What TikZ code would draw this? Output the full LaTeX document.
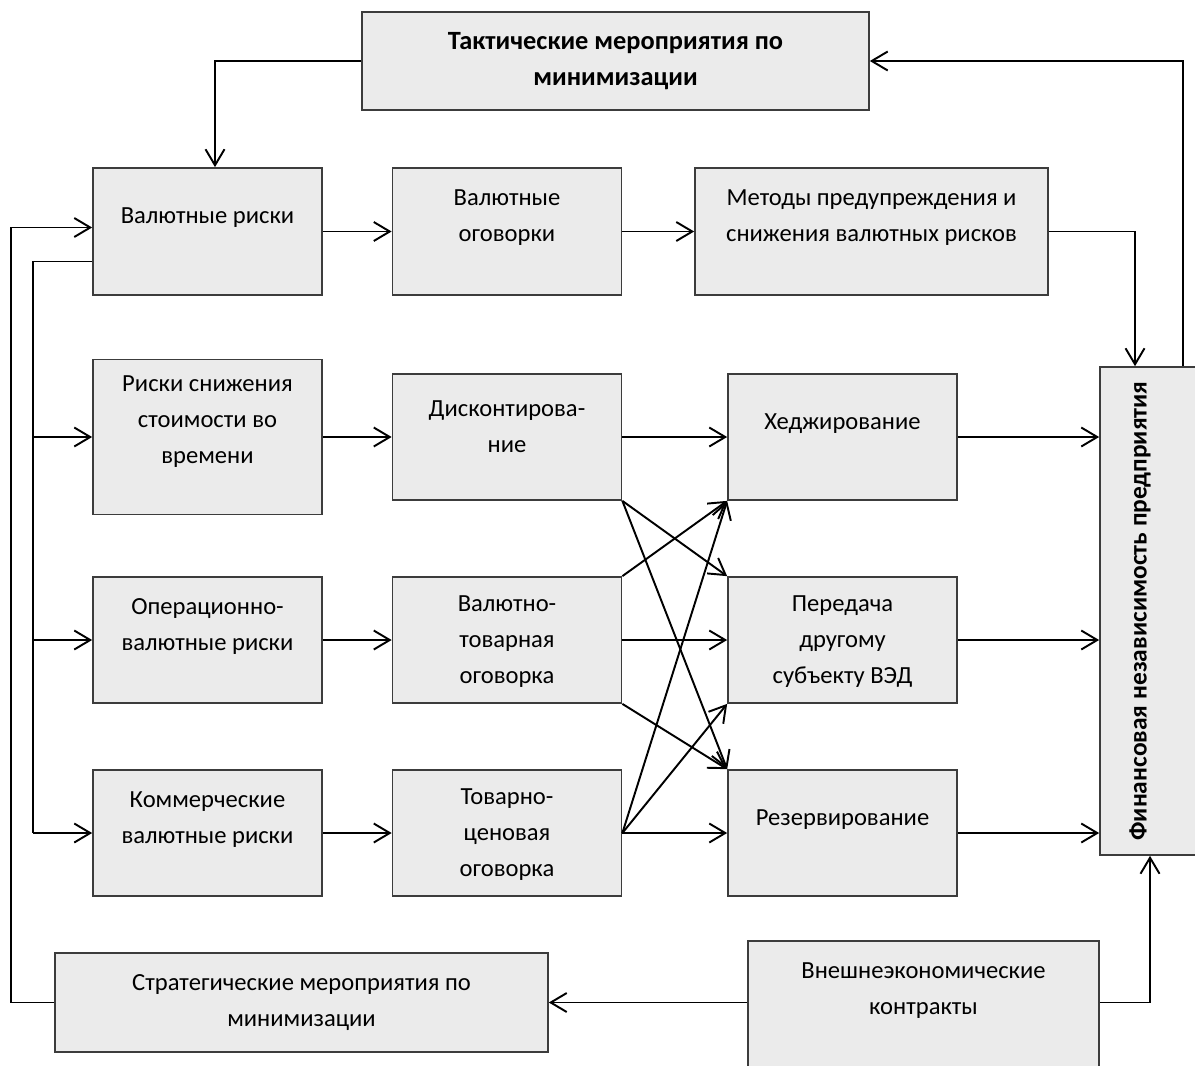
\documentclass[tikz,border=0pt]{standalone}
\usepackage{fontspec}
\setmainfont{Carlito}
\usepackage{graphicx}
\usepackage{xcolor}
\usepackage{tikz}
\usetikzlibrary{arrows.meta}
\definecolor{BoxGray}{RGB}{235,235,235}
\definecolor{EdgeGray}{RGB}{60,60,60}
\tikzset{
    box/.style={rectangle, draw=EdgeGray, fill=BoxGray, line width=1pt, inner sep=2pt, align=center, font=\fontsize{14}{20.5}\selectfont},
    cell/.style={box, minimum width=4.58cm, minimum height=2.52cm},
    raised/.style={text depth=18pt},
    flow/.style={-{Straight Barb[length=3.2mm,width=3.8mm]}, line width=1.1pt},
    link/.style={line width=1.1pt}
}

\begin{document}
\begin{tikzpicture}[x=0.02cm, y=-0.02cm]
    \useasboundingbox (0,0) rectangle (1195,1065);

    % --- Верхний блок ---
    \node[box, font=\fontsize{15}{20.5}\selectfont\bfseries, minimum width=10.14cm, minimum height=1.96cm] (tact) at (615.5,61) {Тактические мероприятия по\\минимизации};

    % --- Первый ряд ---
    \node[cell, raised, minimum height=2.54cm] (valr) at (207.5,231.5) {Валютные риски};
    \node[cell, raised, minimum height=2.54cm] (valog) at (507,231.5) {Валютные\\оговорки};
    \node[box, raised, minimum width=7.06cm, minimum height=2.54cm] (metod) at (871.5,231.5) {Методы предупреждения и\\снижения валютных рисков};

    % --- Правый вертикальный блок ---
    \node[box, font=\fontsize{14.5}{20.5}\selectfont, minimum width=2cm, minimum height=9.76cm] (fin) at (1150,611) {\rotatebox{90}{\bfseries Финансовая независимость предприятия}\rule{0.4cm}{0pt}};

    % --- Второй ряд ---
    \node[cell, text depth=20pt, minimum height=3.1cm] (rsk) at (207.5,437) {Риски снижения\\стоимости во\\времени};
    \node[cell, text depth=12pt] (disk) at (507,437) {Дисконтирова-\\ние};
    \node[cell, raised] (hedzh) at (842.5,437) {Хеджирование};

    % --- Третий ряд ---
    \node[cell, raised] (oper) at (207.5,640) {Операционно-\\валютные риски};
    \node[cell, text depth=0pt] (valtov) at (507,640) {Валютно-\\товарная\\оговорка};
    \node[cell, text depth=0pt] (pered) at (842.5,640) {Передача\\другому\\субъекту ВЭД};

    % --- Четвёртый ряд ---
    \node[cell, raised] (komm) at (207.5,833) {Коммерческие\\валютные риски};
    \node[cell, text depth=0pt] (tovcen) at (507,833) {Товарно-\\ценовая\\оговорка};
    \node[cell, raised] (rezerv) at (842.5,833) {Резервирование};

    % --- Нижние блоки ---
    \node[box, minimum width=9.86cm, minimum height=1.98cm] (strat) at (301.5,1002.5) {Стратегические мероприятия по\\минимизации};
    \node[box, text depth=31pt, minimum width=7.02cm, minimum height=2.98cm] (vnesh) at (923.5,1015.5) {Внешнеэкономические\\контракты};

    % --- Связи сверху ---
    \draw[flow] (tact.west) -| ([xshift=0.15cm]valr.north);
    \draw[flow] ([xshift=0.66cm]fin.north) |- (tact.east);
    \draw[flow] (valr.east) -- (valog.west);
    \draw[flow] (valog.east) -- (metod.west);
    \draw[flow] (metod.east) -| ([xshift=-0.3cm]fin.north);

    % --- Левые магистрали ---
    \coordinate (trunk) at (33,0);
    \draw[flow] (strat.west) -- ++(-43,0) |- ([yshift=0.08cm]valr.west);
    \draw[link] ([yshift=-0.6cm]valr.west) -| (trunk |- komm.west);
    \foreach \n in {rsk,oper,komm}
        \draw[flow] (trunk |- \n.west) -- (\n.west);

    % --- Ряды ---
    \draw[flow] (rsk.east) -- (disk.west);
    \draw[flow] (oper.east) -- (valtov.west);
    \draw[flow] (komm.east) -- (tovcen.west);
    \draw[flow] (disk.east) -- (hedzh.west);
    \draw[flow] (valtov.east) -- (pered.west);
    \foreach \n in {hedzh,pered,rezerv}
        \draw[flow] (\n.east) -- (\n.east -| fin.west);

    % --- Перекрёстные связи ---
    \draw[flow] (disk.south east) -- (pered.north west);
    \draw[flow] (disk.south east) -- (rezerv.north west);
    \draw[flow] (valtov.north east) -- (hedzh.south west);
    \draw[flow] (valtov.south east) -- (rezerv.north west);
    \foreach \n in {hedzh.south west,pered.south west,rezerv.west}
        \draw[flow] (tovcen.east) -- (\n);

    % --- Связи снизу ---
    \draw[flow] (vnesh.west |- strat.east) -- (strat.east);
    \draw[flow] (vnesh.east |- strat.east) -| (fin.south);

\end{tikzpicture}
\end{document}
